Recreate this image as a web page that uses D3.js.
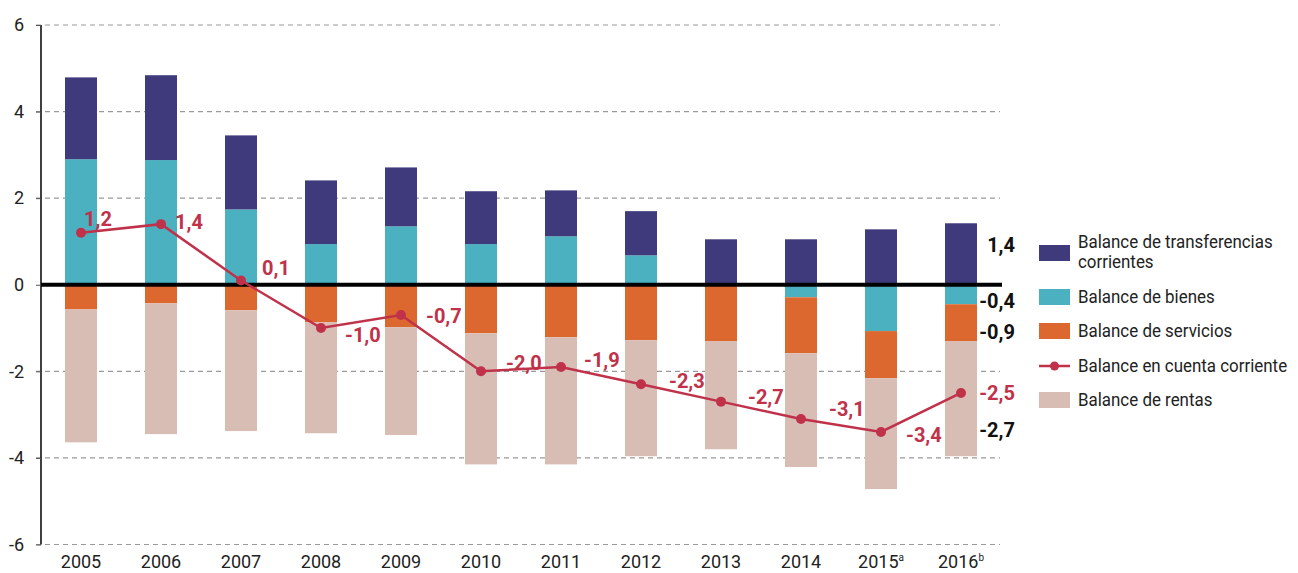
<!DOCTYPE html>
<html>
<head>
<meta charset="utf-8">
<script src="https://cdn.jsdelivr.net/npm/d3@7/dist/d3.min.js"></script>
<style>
  body { margin: 0; background: #fff; }
  svg text { font-family: "Roboto", "Liberation Sans", sans-serif; }
</style>
</head>
<body>
<script>
// data
var years = ["2005", "2006", "2007", "2008", "2009", "2010", "2011", "2012", "2013", "2014", "2015", "2016"];
var yearNotes = ["", "", "", "", "", "", "", "", "", "", "a", "b"];
var bienes = [2.90, 2.88, 1.74, 0.94, 1.35, 0.94, 1.12, 0.68, 0.00, -0.29, -1.07, -0.45];
var transferencias = [1.89, 1.96, 1.71, 1.47, 1.36, 1.22, 1.06, 1.02, 1.05, 1.05, 1.28, 1.42];
var servicios = [-0.57, -0.43, -0.59, -0.87, -0.98, -1.12, -1.21, -1.28, -1.30, -1.29, -1.09, -0.85];
var rentas = [-3.07, -3.02, -2.79, -2.56, -2.49, -3.03, -2.94, -2.68, -2.50, -2.63, -2.56, -2.66];
var cuentaCorriente = [1.2, 1.4, 0.1, -1.0, -0.7, -2.0, -1.9, -2.3, -2.7, -3.1, -3.4, -2.5];
var lastLabels = [
    { value: 1.4, key: "transferencias" },
    { value: -0.4, key: "bienes" },
    { value: -0.9, key: "servicios" },
    { value: -2.5, key: "cuenta" },
    { value: -2.7, key: "rentas" }
];
var yTicks = [-6, -4, -2, 0, 2, 4, 6];

var colors = {
    transferencias: "#3e3a7c",
    bienes: "#4bb1c0",
    servicios: "#dc682f",
    rentas: "#d8bdb4",
    cuenta: "#c0314a"
};

var legendItems = [
    { key: "transferencias", lines: ["Balance de transferencias", "corrientes"], type: "rect" },
    { key: "bienes", lines: ["Balance de bienes"], type: "rect" },
    { key: "servicios", lines: ["Balance de servicios"], type: "rect" },
    { key: "cuenta", lines: ["Balance en cuenta corriente"], type: "line" },
    { key: "rentas", lines: ["Balance de rentas"], type: "rect" }
];

// label offsets for the line values (layout only)
var labelOffsets = [[3, -7], [14, 5], [21, -5], [24, 14], [25, 8], [25, -1], [23, 0], [28, 4], [27, 2], [28, -3], [25, 10], [22, 4]];
// baseline offsets of the right-hand labels
var lastOffsets = { transferencias: 28, bienes: 6, servicios: 15, cuenta: 7, rentas: 35 };

var svgWidth = 1298, svgHeight = 573;

var svg = d3.select("body").append("svg")
    .attr("width", svgWidth)
    .attr("height", svgHeight);

var xScale = d3.scaleBand()
    .domain(years)
    .range([41, 1001])
    .paddingInner(0.6)
    .paddingOuter(0.3);

var yScale = d3.scaleLinear()
    .domain([-6, 6])
    .range([544.5, 25]);

var fmt = function (v) { return d3.format(".1f")(v).replace(".", ",").replace("−", "-"); };

// gridlines
svg.append("g")
    .selectAll("line")
    .data(yTicks.filter(d => d !== 0))
    .enter()
    .append("line")
    .attr("x1", 36)
    .attr("x2", 1000)
    .attr("y1", d => yScale(d))
    .attr("y2", d => yScale(d))
    .attr("stroke", "#9a9a9a")
    .attr("stroke-width", 1.2)
    .attr("stroke-dasharray", "5,4");

// stacked bars
var table = years.map(function (y, i) {
    return { year: y, bienes: bienes[i], transferencias: transferencias[i], servicios: servicios[i], rentas: rentas[i] };
});

var stack = d3.stack()
    .keys(["bienes", "transferencias", "servicios", "rentas"])
    .offset(d3.stackOffsetDiverging);

var series = stack(table);

svg.append("g")
    .selectAll("g")
    .data(series)
    .enter()
    .append("g")
    .attr("fill", d => colors[d.key])
    .selectAll("rect")
    .data(d => d)
    .enter()
    .append("rect")
    .attr("x", d => xScale(d.data.year))
    .attr("width", xScale.bandwidth())
    .attr("y", d => yScale(Math.max(d[0], d[1])))
    .attr("height", d => Math.abs(yScale(d[0]) - yScale(d[1])));

// y axis
var yAxis = d3.axisLeft(yScale)
    .tickValues(yTicks)
    .tickSize(5)
    .tickPadding(12)
    .tickFormat(d => String(d));

var yAxisG = svg.append("g")
    .attr("transform", "translate(41,0)")
    .call(yAxis);

yAxisG.select(".domain").attr("stroke", "#000").attr("stroke-width", 1.5).attr("d", `M0,${yScale(6)}V${yScale(-6)}`);
yAxisG.selectAll(".tick line").attr("stroke", "#555");
yAxisG.selectAll(".tick text")
    .attr("font-size", 18)
    .attr("fill", "#222");

// zero line
svg.append("line")
    .attr("x1", 41)
    .attr("x2", 1002)
    .attr("y1", yScale(0))
    .attr("y2", yScale(0))
    .attr("stroke", "#000")
    .attr("stroke-width", 4);

// x axis labels
var xAxis = d3.axisBottom(xScale).tickSize(0).tickPadding(8);
var xAxisG = svg.append("g")
    .attr("transform", `translate(0,${yScale(-6) + 3})`)
    .call(xAxis);
xAxisG.select(".domain").remove();
xAxisG.selectAll(".tick text")
    .attr("font-size", 18)
    .attr("fill", "#222")
    .each(function (d, i) {
        if (yearNotes[i]) {
            d3.select(this).append("tspan")
                .attr("font-size", 10)
                .attr("dy", "-0.7em")
                .text(yearNotes[i]);
        }
    });

// current account line
var line = d3.line()
    .x((d, i) => xScale(years[i]) + xScale.bandwidth() / 2)
    .y(d => yScale(d));

svg.append("path")
    .datum(cuentaCorriente)
    .attr("fill", "none")
    .attr("stroke", colors.cuenta)
    .attr("stroke-width", 2.5)
    .attr("d", line);

svg.append("g")
    .selectAll("circle")
    .data(cuentaCorriente)
    .enter()
    .append("circle")
    .attr("cx", (d, i) => xScale(years[i]) + xScale.bandwidth() / 2)
    .attr("cy", d => yScale(d))
    .attr("r", 5)
    .attr("fill", colors.cuenta);

svg.append("g")
    .selectAll("text")
    .data(cuentaCorriente.slice(0, 11))
    .enter()
    .append("text")
    .attr("x", (d, i) => xScale(years[i]) + xScale.bandwidth() / 2 + labelOffsets[i][0])
    .attr("y", (d, i) => yScale(d) + labelOffsets[i][1])
    .attr("font-size", 20)
    .attr("font-weight", "bold")
    .attr("fill", colors.cuenta)
    .text(d => fmt(d));

// labels on the right for the last year
svg.append("g")
    .selectAll("text")
    .data(lastLabels)
    .enter()
    .append("text")
    .attr("x", 1015)
    .attr("y", d => yScale(d.value) + lastOffsets[d.key])
    .attr("text-anchor", "end")
    .attr("font-size", 20)
    .attr("font-weight", "bold")
    .attr("fill", d => d.key === "cuenta" ? colors.cuenta : "#111")
    .text(d => fmt(d.value));

// legend
var legendY = [253, 297, 331, 366, 400];
var legend = svg.append("g")
    .selectAll("g")
    .data(legendItems)
    .enter()
    .append("g")
    .attr("transform", (d, i) => `translate(1039,${legendY[i]})`);

legend.filter(d => d.type === "rect")
    .append("rect")
    .attr("x", 0)
    .attr("y", -8)
    .attr("width", 31)
    .attr("height", 16)
    .attr("fill", d => colors[d.key]);

legend.filter(d => d.type === "line")
    .append("line")
    .attr("x1", 0)
    .attr("x2", 31)
    .attr("stroke", colors.cuenta)
    .attr("stroke-width", 2.5);

legend.filter(d => d.type === "line")
    .append("circle")
    .attr("cx", 15.5)
    .attr("r", 4.5)
    .attr("fill", colors.cuenta);

// slightly condensed legend text so the longest entry fits
legend.append("text")
    .attr("transform", "translate(39,0) scale(0.94,1)")
    .attr("y", d => d.lines.length > 1 ? -5 : 6)
    .attr("font-size", 18)
    .attr("fill", "#222")
    .selectAll("tspan")
    .data(d => d.lines)
    .enter()
    .append("tspan")
    .attr("x", 0)
    .attr("dy", (d, i) => i === 0 ? 0 : 20)
    .text(d => d);
</script>
</body>
</html>
